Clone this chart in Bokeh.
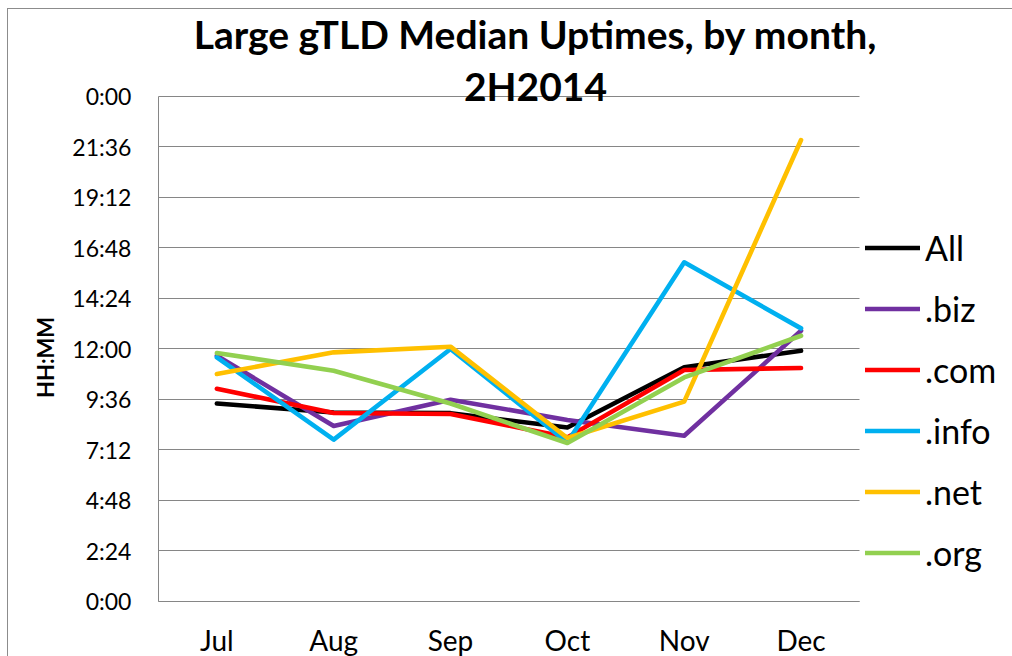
import math
from bokeh.plotting import figure
from bokeh.models import Range1d, FixedTicker, Legend, LegendItem, Label
from bokeh.embed import file_html
from bokeh.resources import INLINE

# ---- data (hours) ----
months = ["Jul", "Aug", "Sep", "Oct", "Nov", "Dec"]
series_names = ["All", ".biz", ".com", ".info", ".net", ".org"]
all_vals = [9.41, 8.98, 8.95, 8.27, 11.13, 11.92]
biz_vals = [11.68, 8.34, 9.59, 8.63, 7.88, 12.87]
com_vals = [10.11, 8.96, 8.91, 7.80, 11.00, 11.10]
info_vals = [11.60, 7.69, 12.00, 7.56, 16.12, 12.98]
net_vals = [10.81, 11.84, 12.11, 7.77, 9.50, 21.93]
org_vals = [11.81, 10.97, 9.41, 7.53, 10.65, 12.63]
y_ticks = [0, 2.4, 4.8, 7.2, 9.6, 12, 14.4, 16.8, 19.2, 21.6, 24]
y_tick_labels = ["0:00", "2:24", "4:48", "7:12", "9:36", "12:00",
                 "14:24", "16:48", "19:12", "21:36", "0:00"]
title_lines = ["Large gTLD Median Uptimes, by month,", "2H2014"]
y_axis_title = "HH:MM"
colors = ["#000000", "#7030A0", "#FF0000", "#00B0F0", "#FFC000", "#92D050"]

FONT = "Lato"
GRID = "#868686"

x_idx = list(range(len(months)))
x_lo, x_hi = -0.5, len(months) - 0.5
y_lo, y_hi = y_ticks[0], y_ticks[-1]

p = figure(width=1012, height=656,
           x_range=Range1d(-1.852, 6.810), y_range=Range1d(-2.614, 28.562),
           min_border_left=0, min_border_right=0,
           min_border_top=0, min_border_bottom=0,
           output_backend="svg", toolbar_location=None)
p.outline_line_color = None
p.background_fill_alpha = 0
p.border_fill_alpha = 0
p.styles = {
    "background": "linear-gradient(#8c8c8c,#8c8c8c) 7px 8px / 1px 100% no-repeat, "
                  "linear-gradient(#8c8c8c,#8c8c8c) 7px 8px / 100% 1px no-repeat, white"
}

# y axis (drawn inside the frame at the plot-area's left edge)
yax = p.yaxis[0]
yax.fixed_location = x_lo
yax.ticker = FixedTicker(ticks=y_ticks)
yax.major_label_overrides = {t: l for t, l in zip(y_ticks, y_tick_labels)}
yax.bounds = (y_lo, y_hi)
yax.axis_line_color = GRID
yax.axis_line_width = 1
yax.major_tick_line_color = None
yax.minor_tick_line_color = None
yax.major_tick_out = 0
yax.major_tick_in = 0
yax.major_label_standoff = 27
yax.major_label_text_font = FONT
yax.major_label_text_font_size = "23px"
yax.major_label_text_color = "black"

# x axis (at y = 0)
xax = p.xaxis[0]
xax.fixed_location = y_lo
xax.bounds = (x_lo, x_hi)
xax.ticker = FixedTicker(ticks=x_idx)
xax.major_label_overrides = {i: m for i, m in zip(x_idx, months)}
xax.axis_line_color = GRID
xax.axis_line_width = 1
xax.major_tick_line_color = None
xax.minor_tick_line_color = None
xax.major_tick_out = 0
xax.major_tick_in = 0
xax.major_label_standoff = 22
xax.major_label_text_font = FONT
xax.major_label_text_font_size = "28px"
xax.major_label_text_color = "black"

# horizontal grid limited to the plot area
p.xgrid.grid_line_color = None
try:
    p.ygrid.cross_bounds = (x_lo, x_hi)
    p.ygrid.ticker = FixedTicker(ticks=y_ticks)
    p.ygrid.grid_line_color = GRID
    p.ygrid.grid_line_width = 1
except Exception:
    p.ygrid.grid_line_color = None
    p.segment(x0=[x_lo] * len(y_ticks), x1=[x_hi] * len(y_ticks),
              y0=y_ticks, y1=y_ticks, line_color=GRID, line_width=1)

# lines
all_series = [all_vals, biz_vals, com_vals, info_vals, net_vals, org_vals]
items = []
for name, vals, c in zip(series_names, all_series, colors):
    r = p.line(x_idx, vals, line_color=c, line_width=4.6,
               line_join="round", line_cap="round")
    items.append(LegendItem(label=name, renderers=[r]))

legend = Legend(items=items, location=(865, 83),
                border_line_color=None, background_fill_alpha=0,
                padding=0, margin=0, spacing=20,
                glyph_width=55, glyph_height=41, label_height=41,
                label_standoff=5, label_text_font=FONT,
                label_text_font_size="34px", label_text_color="black")
p.add_layout(legend)

# title (two lines)
for txt, yv in zip(title_lines, [26.95, 24.5]):
    p.add_layout(Label(x=2.727, y=yv, text=txt, text_align="center",
                       text_baseline="alphabetic", text_font=FONT,
                       text_font_style="bold", text_font_size="39px",
                       text_color="black"))

# y axis title
p.add_layout(Label(x=-1.467, y=11.6, text=y_axis_title, angle=math.pi / 2,
                   text_align="center", text_baseline="middle",
                   text_font=FONT, text_font_style="bold",
                   text_font_size="22px", text_color="black"))

open("out.html", "w").write(file_html(p, INLINE))
